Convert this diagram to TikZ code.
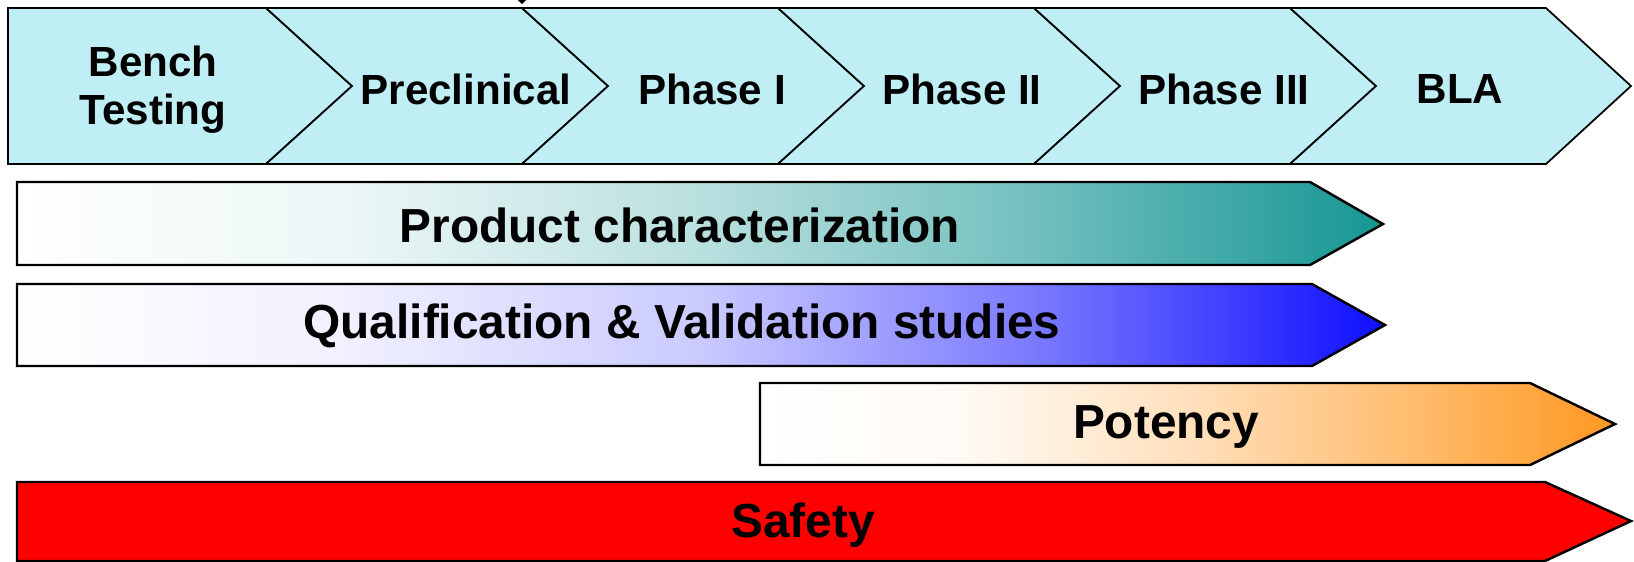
\documentclass[tikz,border=0pt]{standalone}
\usepackage{fontspec}
\setmainfont{Liberation Sans}
\usepackage{xcolor}
\definecolor{phasefill}{RGB}{191,239,245}
\definecolor{prodend}{RGB}{22,150,148}
\definecolor{qualend}{RGB}{15,15,255}
\definecolor{potend}{RGB}{255,152,32}
\definecolor{safetyred}{RGB}{255,0,0}

% left-to-right fills for the activity bars
\pgfdeclarehorizontalshading{prodshade}{100bp}{color(0bp)=(white); color(25bp)=(white);
  color(37bp)=(prodend!8!white); color(50bp)=(prodend!30!white);
  color(62bp)=(prodend!60!white); color(75bp)=(prodend); color(100bp)=(prodend)}
\pgfdeclarehorizontalshading{qualshade}{100bp}{color(0bp)=(white); color(25bp)=(white);
  color(37bp)=(qualend!6!white); color(50bp)=(qualend!22!white);
  color(62bp)=(qualend!55!white); color(75bp)=(qualend); color(100bp)=(qualend)}
\pgfdeclarehorizontalshading{potshade}{100bp}{color(0bp)=(white); color(25bp)=(white);
  color(37bp)=(potend!5!white); color(50bp)=(potend!30!white);
  color(62bp)=(potend!62!white); color(75bp)=(potend); color(100bp)=(potend)}

\begin{document}
\begin{tikzpicture}[x=0.1mm,y=-0.1mm,
    phase/.style={draw=black,fill=phasefill,line width=0.5pt},
    bar/.style={draw=black,line width=0.7pt},
    phaselabel/.style={font=\fontsize{12}{13.6}\selectfont\bfseries,align=center},
    barlabel/.style={font=\fontsize{13.6}{16}\selectfont\bfseries}]

    \useasboundingbox (0,0) rectangle (1634,561);

    % Development stages
    \draw[phase] (8,8) -- (266,8) -- (352,86) -- (266,164) -- (8,164) -- cycle;
    \draw[phase] (266,8) -- (522,8) -- (608,86) -- (522,164) -- (266,164) -- (352,86) -- cycle;
    \draw[phase] (522,8) -- (778,8) -- (864,86) -- (778,164) -- (522,164) -- (608,86) -- cycle;
    \draw[phase] (778,8) -- (1034,8) -- (1120,86) -- (1034,164) -- (778,164) -- (864,86) -- cycle;
    \draw[phase] (1034,8) -- (1290,8) -- (1376,86) -- (1290,164) -- (1034,164) -- (1120,86) -- cycle;
    \draw[phase] (1290,8) -- (1546,8) -- (1631,86) -- (1546,164) -- (1290,164) -- (1376,86) -- cycle;

    \node[phaselabel] (bench) at (153,90) {Bench\\Testing};
    \node[phaselabel] (precl) at (466,89) {Preclinical};
    \node[phaselabel] (ph1) at (712,89) {Phase I};
    \node[phaselabel] (ph2) at (962,89) {Phase II};
    \node[phaselabel] (ph3) at (1224,89) {Phase III};
    \node[phaselabel] (bla) at (1460,89) {BLA};

    % small marker above the stages
    \fill (518,0) -- (526,0) -- (522,4) -- cycle;

    % Activity bars
    \shade[shading=prodshade,bar] (17,182) -- (1310,182) -- (1383,224) -- (1310,265) -- (17,265) -- cycle;
    \shade[shading=qualshade,bar] (17,284) -- (1312,284) -- (1385,325) -- (1312,366) -- (17,366) -- cycle;
    \shade[shading=potshade,bar] (760,383) -- (1530,383) -- (1615,424) -- (1530,465) -- (760,465) -- cycle;
    \draw[bar,fill=safetyred] (17,482) -- (1545,482) -- (1631,521) -- (1545,561) -- (17,561) -- cycle;

    \node[barlabel] (prod) at (680,225) {Product characterization};
    \node[barlabel] (qual) at (682,326) {Qualification \& Validation studies};
    \node[barlabel] (pot) at (1166,427) {Potency};
    \node[barlabel] (safe) at (803,525) {Safety};
\end{tikzpicture}
\end{document}
